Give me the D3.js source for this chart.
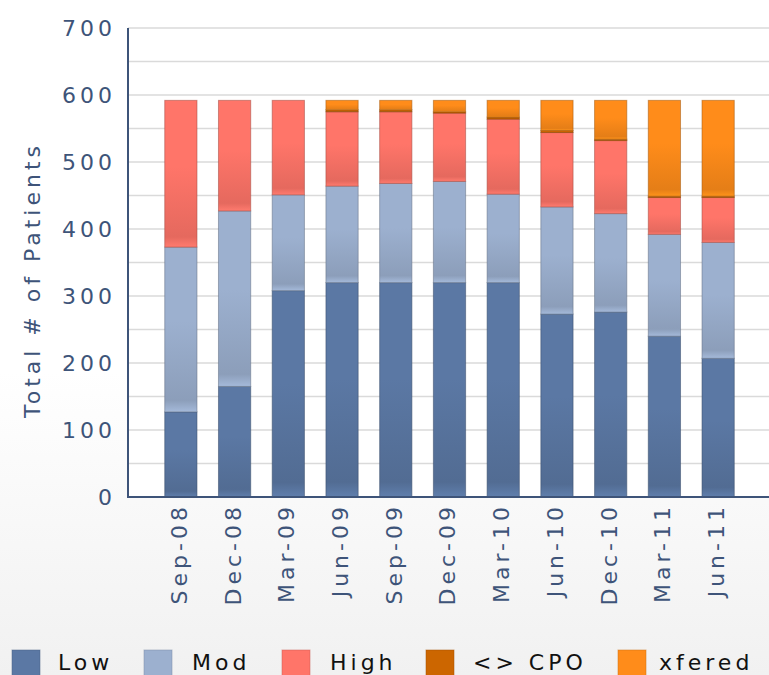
<!DOCTYPE html>
<html>
<head>
<meta charset="utf-8">
<script src="https://cdn.jsdelivr.net/npm/d3@7/dist/d3.min.js"></script>
<style>
  html, body { margin: 0; padding: 0; background: #fff; }
  svg { display: block; }
  text { font-family: "DejaVu Sans", Verdana, sans-serif; }
</style>
</head>
<body>
<svg id="chart" width="769" height="675"></svg>
<script>
// Quarter labels along the x axis
const quarters = ["Sep-08", "Dec-08", "Mar-09", "Jun-09", "Sep-09", "Dec-09",
                  "Mar-10", "Jun-10", "Dec-10", "Mar-11", "Jun-11"];

// Patients per risk group in each quarter
const low    = [127, 165, 308, 320, 320, 320, 320, 273, 276, 240, 207];
const mod    = [246, 262, 143, 144, 148, 151, 132, 160, 147, 152, 173];
const high   = [219, 165, 141, 111, 107, 102, 112, 111, 109,  55,  67];
const cpo    = [  0,   0,   0,   3,   3,   2,   3,   3,   2,   2,   2];
const xfered = [  0,   0,   0,  14,  14,  17,  25,  45,  58, 143, 143];

const seriesNames = ["Low", "Mod", "High", "<> CPO", "xfered"];
const seriesColors = ["#5b78a4", "#9cb0cf", "#ff7569", "#cc6600", "#ff8c1a"];
const yTicks = [0, 100, 200, 300, 400, 500, 600, 700];

const seriesValues = [low, mod, high, cpo, xfered];
const rows = quarters.map((q, i) => {
  const r = { quarter: q };
  seriesNames.forEach((s, k) => { r[s] = seriesValues[k][i]; });
  return r;
});

const svg = d3.select("#chart");
const W = 769, H = 675;
const defs = svg.append("defs");
const FONT = "22px", SPACING = "4px";

// soft page background fading to grey at the bottom
const bg = defs.append("linearGradient").attr("id", "bg")
  .attr("x1", 0).attr("y1", 0).attr("x2", 0).attr("y2", 1);
bg.append("stop").attr("offset", 0.55).attr("stop-color", "#ffffff");
bg.append("stop").attr("offset", 1).attr("stop-color", "#f1f1f1");
svg.append("rect").attr("width", W).attr("height", H).attr("fill", "url(#bg)");

// plot area
const plotLeft = 128, plotRight = 769, plotTop = 28, plotBottom = 497;
svg.append("rect")
  .attr("x", plotLeft).attr("y", plotTop)
  .attr("width", plotRight - plotLeft).attr("height", plotBottom - plotTop)
  .attr("fill", "#ffffff");

const x = d3.scaleBand().domain(quarters).range([154, 745])
  .paddingInner(0.4).paddingOuter(0.2);
const y = d3.scaleLinear().domain([0, 700]).range([plotBottom, plotTop]);

// gridlines every 50
svg.append("g").selectAll("line")
  .data(d3.range(50, 701, 50))
  .join("line")
  .attr("x1", plotLeft).attr("x2", plotRight)
  .attr("y1", d => y(d)).attr("y2", d => y(d))
  .attr("stroke", "#dadada").attr("stroke-width", 1.6);

// bar shading per series
seriesColors.forEach((c, k) => {
  const g = defs.append("linearGradient").attr("id", "grad" + k)
    .attr("x1", 0).attr("y1", 0).attr("x2", 0).attr("y2", 1);
  const base = d3.color(c);
  g.append("stop").attr("offset", 0).attr("stop-color", base.formatHex());
  g.append("stop").attr("offset", 0.45).attr("stop-color", base.formatHex());
  g.append("stop").attr("offset", 0.93).attr("stop-color", base.darker(0.3).formatHex());
  g.append("stop").attr("offset", 1).attr("stop-color", base.brighter(0.15).formatHex());
});

const stack = d3.stack().keys(seriesNames);
const stacked = stack(rows);

const barG = svg.append("g");
stacked.forEach((layer, k) => {
  barG.append("g").selectAll("rect")
    .data(layer.filter(d => d[1] - d[0] > 0))
    .join("rect")
    .attr("x", d => x(d.data.quarter))
    .attr("width", x.bandwidth())
    .attr("y", d => y(d[1]))
    .attr("height", d => y(d[0]) - y(d[1]))
    .attr("fill", "url(#grad" + k + ")")
    .attr("stroke", d3.color(seriesColors[k]).darker(1.2).formatHex())
    .attr("stroke-opacity", 0.55)
    .attr("stroke-width", 1);
});

// axes
const axisColor = "#3e5479";
const yAxis = d3.axisLeft(y).tickValues(yTicks).tickSize(0).tickPadding(12);
const yG = svg.append("g").attr("transform", `translate(${plotLeft},0)`).call(yAxis);
yG.select(".domain").remove();
yG.selectAll("text")
  .attr("fill", axisColor)
  .style("font-size", FONT)
  .style("letter-spacing", SPACING);

svg.append("line")
  .attr("x1", plotLeft).attr("x2", plotLeft)
  .attr("y1", plotTop).attr("y2", plotBottom)
  .attr("stroke", axisColor).attr("stroke-width", 2);

const xAxis = d3.axisBottom(x).tickSize(0).tickPadding(0);
const xG = svg.append("g").attr("transform", `translate(-2,${plotBottom})`).call(xAxis);
xG.select(".domain").remove();
xG.selectAll("text")
  .attr("fill", axisColor)
  .style("font-size", FONT)
  .style("letter-spacing", SPACING)
  .attr("text-anchor", "end")
  .attr("transform", "rotate(-90)")
  .attr("x", -6)
  .attr("y", 0)
  .attr("dy", "0.36em");

svg.append("line")
  .attr("x1", plotLeft - 1).attr("x2", plotRight)
  .attr("y1", plotBottom).attr("y2", plotBottom)
  .attr("stroke", axisColor).attr("stroke-width", 2);

// y axis title
svg.append("text")
  .attr("transform", "translate(40,280) rotate(-90)")
  .attr("text-anchor", "middle")
  .attr("fill", axisColor)
  .style("font-size", FONT)
  .style("letter-spacing", SPACING)
  .text("Total # of Patients");

// legend
const swatchX = [12, 144, 282, 426, 618];
const labelX = [58, 192, 330, 473, 659];
const legend = svg.append("g");
seriesNames.forEach((name, k) => {
  legend.append("rect")
    .attr("x", swatchX[k]).attr("y", 650)
    .attr("width", 28).attr("height", 26)
    .attr("fill", seriesColors[k])
    .attr("stroke", d3.color(seriesColors[k]).darker(0.6).formatHex())
    .attr("stroke-opacity", 0.5);
  legend.append("text")
    .attr("x", labelX[k]).attr("y", 670)
    .attr("fill", "#111111")
    .style("font-size", FONT)
    .style("letter-spacing", SPACING)
    .text(name);
});
</script>
</body>
</html>
